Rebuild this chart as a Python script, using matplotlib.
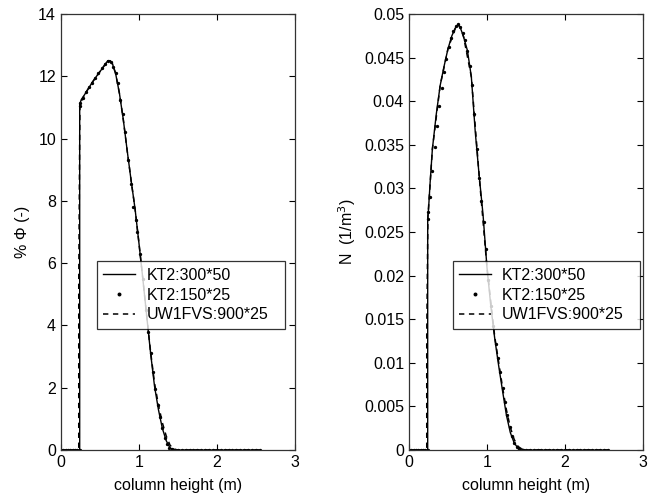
import matplotlib
matplotlib.use("Agg")
import matplotlib.pyplot as plt

plt.rcParams['font.family'] = ['Liberation Sans', 'DejaVu Sans']

# volume fraction profile, % Phi (-)
phi_x_fine = [0, 0.24, 0.24, 0.26, 0.3, 0.35, 0.4, 0.45, 0.5, 0.55, 0.6, 0.63, 0.66, 0.7,
              0.75, 0.8, 0.85, 0.9, 0.95, 1.0, 1.05, 1.1, 1.15, 1.2, 1.25, 1.3, 1.35, 1.4,
              1.45, 1.5, 2.0, 2.55]
phi_y_fine = [0, 0, 11.1, 11.25, 11.4, 11.6, 11.8, 11.98, 12.15, 12.32, 12.5, 12.5, 12.4, 12.1,
              11.45, 10.6, 9.6, 8.65, 7.75, 6.65, 5.5, 4.3, 3.1, 2.05, 1.3, 0.7, 0.3, 0.06,
              0.02, 0.0, 0.0, 0.0]

phi_x_coarse = [0, 0.03, 0.06, 0.09, 0.12, 0.15, 0.18, 0.21, 0.24, 0.24, 0.25, 0.28, 0.32,
                0.36, 0.40, 0.44, 0.48, 0.52, 0.56, 0.60, 0.64, 0.67, 0.70, 0.73, 0.76, 0.79,
                0.82, 0.86, 0.90, 0.93, 0.96, 0.98, 1.01, 1.05, 1.09, 1.12, 1.15, 1.18, 1.21,
                1.24, 1.27, 1.30, 1.33, 1.36, 1.39, 1.42, 1.45, 1.50, 1.55, 1.60, 1.65, 1.70,
                1.75, 1.80, 1.85, 1.90, 1.95, 2.00, 2.05, 2.10, 2.15, 2.20, 2.25, 2.30, 2.35,
                2.40, 2.45, 2.50, 2.55]
phi_y_coarse = [0, 0, 0, 0, 0, 0, 0, 0, 0, 11.05, 11.15, 11.3, 11.5,
                11.65, 11.8, 11.95, 12.1, 12.25, 12.38, 12.5, 12.45, 12.3, 12.1, 11.8, 11.25, 10.8,
                10.2, 9.3, 8.55, 7.8, 7.4, 7.0, 6.3, 5.5, 4.5, 3.8, 3.1, 2.5, 1.95,
                1.45, 1.05, 0.7, 0.4, 0.2, 0.08, 0.03, 0.01, 0, 0, 0, 0, 0,
                0, 0, 0, 0, 0, 0, 0, 0, 0, 0, 0, 0, 0,
                0, 0, 0, 0]

phi_x_uw = [0, 0.228, 0.228, 0.243, 0.3, 0.4, 0.5, 0.6, 0.63, 0.66, 0.7, 0.75, 0.8, 0.85,
            0.9, 0.95, 1.0, 1.05, 1.1, 1.15, 1.2, 1.25, 1.3, 1.35, 1.4, 1.45, 1.5, 2.55]
phi_y_uw = [0, 0, 5.4, 11.1, 11.4, 11.8, 12.15, 12.5, 12.5, 12.4, 12.1, 11.45, 10.6, 9.6,
            8.65, 7.75, 6.65, 5.5, 4.3, 3.15, 2.15, 1.45, 0.88, 0.45, 0.15, 0.03, 0.0, 0.0]

# number density profile, N (1/m^3)
n_x_fine = [0, 0.24, 0.24, 0.25, 0.27, 0.3, 0.35, 0.4, 0.45, 0.5, 0.55, 0.6, 0.63, 0.66, 0.7,
            0.75, 0.8, 0.85, 0.9, 0.95, 1.0, 1.05, 1.1, 1.15, 1.2, 1.25, 1.3, 1.35, 1.4,
            1.45, 1.5, 2.0, 2.55]
n_y_fine = [0, 0, 0.0265, 0.0275, 0.0305, 0.0345, 0.0385, 0.0418, 0.0440, 0.0460, 0.0475,
            0.0485, 0.0488, 0.0484, 0.0474, 0.0458, 0.0428, 0.0365, 0.0315, 0.0270, 0.0210,
            0.0165, 0.0128, 0.0097, 0.0068, 0.0040, 0.0020, 0.0008, 0.0002, 0.0001, 0, 0, 0]

n_x_coarse = [0, 0.03, 0.06, 0.09, 0.12, 0.15, 0.18, 0.21, 0.24, 0.24, 0.25, 0.27, 0.30,
              0.33, 0.36, 0.39, 0.42, 0.45, 0.48, 0.51, 0.54, 0.57, 0.60, 0.63, 0.66, 0.69,
              0.72, 0.75, 0.78, 0.81, 0.84, 0.87, 0.90, 0.93, 0.96, 0.99, 1.02, 1.05, 1.08,
              1.11, 1.14, 1.17, 1.20, 1.23, 1.26, 1.29, 1.32, 1.35, 1.38, 1.41, 1.45, 1.50,
              1.55, 1.60, 1.65, 1.70, 1.75, 1.80, 1.85, 1.90, 1.95, 2.00, 2.05, 2.10, 2.15,
              2.20, 2.25, 2.30, 2.35, 2.40, 2.45, 2.50, 2.55]
n_y_coarse = [0, 0, 0, 0, 0, 0, 0, 0, 0, 0.0265, 0.0273, 0.0290, 0.0320,
              0.0348, 0.0372, 0.0395, 0.0415, 0.0433, 0.0448, 0.0462, 0.0473, 0.0481, 0.0486,
              0.0488, 0.0485, 0.0478, 0.0470, 0.0458, 0.0440, 0.0418, 0.0385, 0.0345, 0.0312,
              0.0285, 0.0262, 0.0230, 0.0195, 0.0165, 0.0142, 0.0122, 0.0105, 0.0090, 0.0071,
              0.0055, 0.0040, 0.0026, 0.0016, 0.0008, 0.0003, 0.0001, 0, 0,
              0, 0, 0, 0, 0, 0, 0, 0, 0, 0, 0, 0, 0,
              0, 0, 0, 0, 0, 0, 0, 0]

n_x_uw = [0, 0.228, 0.228, 0.243, 0.27, 0.3, 0.4, 0.5, 0.6, 0.63, 0.66, 0.7, 0.8, 0.9, 1.0,
          1.1, 1.2, 1.25, 1.3, 1.35, 1.4, 1.45, 1.5, 2.55]
n_y_uw = [0, 0, 0.0132, 0.0268, 0.0303, 0.0345, 0.0418, 0.0460, 0.0485, 0.0488, 0.0484,
          0.0474, 0.0428, 0.0315, 0.0210, 0.0130, 0.0072, 0.0046, 0.0026, 0.0012, 0.0004,
          0.0001, 0, 0]

labels = ['KT2:300*50', 'KT2:150*25', 'UW1FVS:900*25']
x_ticks = [0, 1, 2, 3]
phi_ticks = [0, 2, 4, 6, 8, 10, 12, 14]
n_ticks = [0, 0.005, 0.01, 0.015, 0.02, 0.025, 0.03, 0.035, 0.04, 0.045, 0.05]
n_tick_labels = ['0', '0.005', '0.01', '0.015', '0.02', '0.025', '0.03', '0.035', '0.04',
                 '0.045', '0.05']

fig = plt.figure(figsize=(6.55, 4.98), dpi=100)
ax1 = fig.add_axes([0.0931, 0.0964, 0.357, 0.8755])
ax2 = fig.add_axes([0.6244, 0.0964, 0.357, 0.8755])


def draw_panel(ax, xf, yf, xc, yc, xu, yu):
    ax.plot(xf, yf, color='black', lw=1.0, label=labels[0])
    ax.plot(xc, yc, linestyle='none', marker='.', ms=2.8, color='black', label=labels[1])
    ax.plot(xu, yu, color='black', lw=1.1, linestyle=(0, (3.5, 3)), label=labels[2])
    ax.set_xlim(0, 3)
    ax.set_xticks(x_ticks)
    ax.set_xlabel('column height (m)', fontsize=11.5, labelpad=6)
    ax.tick_params(direction='in', top=True, right=True, length=4, labelsize=11.5, width=0.8)
    for s in ax.spines.values():
        s.set_linewidth(0.9)
        s.set_color('#333333')


def add_legend(ax, x0):
    leg = ax.legend(loc='lower left', bbox_to_anchor=(x0, 0.278, 0.803, 0.16), mode='expand',
                    fontsize=11.5, frameon=True, fancybox=False, edgecolor='black',
                    handlelength=2.0, borderaxespad=0, labelspacing=0.3, borderpad=0.4,
                    handletextpad=0.7, markerscale=1.3)
    leg.get_frame().set_linewidth(0.9)


draw_panel(ax1, phi_x_fine, phi_y_fine, phi_x_coarse, phi_y_coarse, phi_x_uw, phi_y_uw)
ax1.set_ylim(0, 14)
ax1.set_yticks(phi_ticks)
ax1.set_ylabel('% \u03a6 (-)', fontsize=11.5, labelpad=6)
add_legend(ax1, 0.154)

draw_panel(ax2, n_x_fine, n_y_fine, n_x_coarse, n_y_coarse, n_x_uw, n_y_uw)
ax2.set_ylim(0, 0.05)
ax2.set_yticks(n_ticks)
ax2.set_yticklabels(n_tick_labels)
ax2.set_ylabel('N  (1/m$^3$)', fontsize=11.5, labelpad=4)
add_legend(ax2, 0.187)

fig.savefig('out.png', dpi=100)
